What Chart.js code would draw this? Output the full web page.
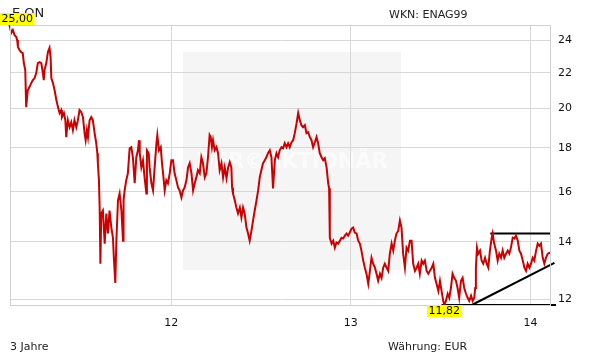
<!DOCTYPE html>
<html lang="de">
<head>
<meta charset="UTF-8">
<script src="https://cdn.jsdelivr.net/npm/chart.js"></script>
<title>E.ON</title>
<style>
  body { margin: 0; background: #fff; }
  canvas { display: block; }
</style>
</head>
<body>
<canvas id="chart" width="611" height="364"></canvas>
<script>
// time in decimal years (11.5 = mid 2011), close in EUR
const years = [
  11.100, 11.110, 11.119, 11.128, 11.138, 11.143, 11.147, 11.156, 11.165, 11.174, 11.180, 11.188, 11.193,
  11.202, 11.212, 11.221, 11.230, 11.240, 11.249, 11.258, 11.267, 11.277, 11.286, 11.291, 11.295, 11.305,
  11.314, 11.323, 11.329, 11.333, 11.342, 11.351, 11.361, 11.370, 11.379, 11.388, 11.392, 11.403, 11.411,
  11.416, 11.425, 11.435, 11.444, 11.453, 11.462, 11.472, 11.481, 11.490, 11.500, 11.509, 11.518, 11.524,
  11.531, 11.537, 11.546, 11.555, 11.564, 11.574, 11.583, 11.589, 11.592, 11.598, 11.602, 11.606, 11.611,
  11.620, 11.630, 11.639, 11.648, 11.657, 11.667, 11.676, 11.681, 11.689, 11.695, 11.704, 11.713, 11.723,
  11.732, 11.735, 11.741, 11.750, 11.759, 11.769, 11.778, 11.787, 11.797, 11.806, 11.815, 11.821, 11.825,
  11.834, 11.843, 11.852, 11.862, 11.865, 11.875, 11.880, 11.890, 11.899, 11.908, 11.918, 11.923, 11.932,
  11.942, 11.949, 11.955, 11.964, 11.973, 11.982, 11.992, 12.001, 12.010, 12.019, 12.029, 12.038, 12.047,
  12.057, 12.066, 12.075, 12.085, 12.094, 12.103, 12.113, 12.122, 12.131, 12.140, 12.149, 12.159, 12.168,
  12.177, 12.187, 12.196, 12.205, 12.214, 12.220, 12.227, 12.233, 12.242, 12.252, 12.261, 12.270, 12.280,
  12.289, 12.298, 12.308, 12.317, 12.326, 12.335, 12.339, 12.344, 12.354, 12.363, 12.372, 12.382, 12.391,
  12.400, 12.409, 12.419, 12.428, 12.437, 12.447, 12.456, 12.465, 12.475, 12.484, 12.493, 12.502, 12.511,
  12.521, 12.530, 12.539, 12.549, 12.558, 12.567, 12.577, 12.586, 12.595, 12.604, 12.614, 12.623, 12.632,
  12.642, 12.651, 12.660, 12.670, 12.679, 12.688, 12.698, 12.707, 12.716, 12.725, 12.734, 12.744, 12.753,
  12.762, 12.772, 12.781, 12.790, 12.800, 12.809, 12.818, 12.827, 12.837, 12.846, 12.855, 12.865, 12.874,
  12.879, 12.883, 12.893, 12.902, 12.911, 12.920, 12.930, 12.939, 12.948, 12.957, 12.967, 12.976, 12.985,
  12.994, 13.004, 13.013, 13.022, 13.032, 13.041, 13.050, 13.059, 13.069, 13.078, 13.087, 13.097, 13.106,
  13.115, 13.124, 13.134, 13.143, 13.152, 13.162, 13.171, 13.180, 13.189, 13.199, 13.208, 13.217, 13.227,
  13.236, 13.245, 13.254, 13.264, 13.273, 13.282, 13.291, 13.301, 13.310, 13.319, 13.329, 13.338, 13.347,
  13.357, 13.366, 13.375, 13.384, 13.394, 13.403, 13.412, 13.422, 13.431, 13.440, 13.450, 13.459, 13.468,
  13.477, 13.487, 13.496, 13.505, 13.514, 13.520, 13.529, 13.539, 13.548, 13.557, 13.566, 13.575, 13.585,
  13.594, 13.603, 13.613, 13.622, 13.631, 13.641, 13.650, 13.659, 13.669, 13.678, 13.687, 13.692, 13.696,
  13.702, 13.709, 13.719, 13.728, 13.737, 13.747, 13.756, 13.765, 13.774, 13.784, 13.789, 13.798, 13.808,
  13.817, 13.826, 13.836, 13.845, 13.854, 13.864, 13.873, 13.882, 13.891, 13.901, 13.910, 13.919, 13.929,
  13.938, 13.947, 13.957, 13.966, 13.975, 13.984, 13.994, 14.003, 14.012, 14.021, 14.031, 14.040, 14.049,
  14.058, 14.068, 14.077, 14.086, 14.096, 14.105, 14.113
];
const prices = [
  25.00, 24.47, 24.67, 24.34, 24.21, 24.01, 23.57, 23.38, 23.25, 23.19, 22.58, 22.16, 20.07,
  21.01, 21.19, 21.40, 21.57, 21.69, 21.98, 22.58, 22.64, 22.58, 21.98, 21.57, 22.16, 22.58,
  23.25, 23.51, 22.94, 21.69, 21.40, 21.01, 20.45, 20.07, 19.75, 19.91, 19.54, 19.75, 19.38,
  18.52, 19.38, 19.02, 19.28, 18.87, 19.38, 19.02, 19.38, 19.91, 19.80, 19.54, 18.72, 18.37,
  18.87, 18.52, 19.38, 19.54, 19.38, 18.72, 18.22, 17.74, 17.27, 16.50, 15.34, 13.20, 15.10,
  15.22, 13.93, 15.10, 14.31, 15.22, 14.54, 14.15, 13.41, 12.54, 14.04, 15.64, 15.93, 15.22,
  14.04, 15.64, 16.06, 16.50, 16.81, 17.98, 18.03, 17.55, 16.37, 17.55, 17.88, 18.37, 17.74,
  17.08, 17.41, 16.63, 15.93, 17.88, 17.74, 17.08, 16.37, 16.06, 17.08, 18.22, 18.62, 17.88,
  18.03, 17.27, 16.81, 16.06, 16.50, 16.37, 16.81, 17.41, 17.41, 16.81, 16.50, 16.19, 16.06,
  15.76, 16.06, 16.19, 16.50, 17.08, 17.27, 16.81, 16.06, 16.37, 16.63, 16.95, 16.81, 17.55,
  17.27, 16.63, 16.81, 17.55, 18.62, 18.52, 18.03, 18.37, 17.88, 18.03, 17.74, 16.95, 17.27,
  16.63, 17.08, 16.59, 17.08, 17.32, 17.08, 16.19, 15.93, 15.64, 15.34, 15.10, 15.34, 14.94,
  15.34, 15.10, 14.54, 14.31, 14.04, 14.42, 14.82, 15.22, 15.64, 16.06, 16.63, 16.95, 17.27,
  17.41, 17.55, 17.74, 17.88, 17.55, 16.15, 17.41, 17.74, 17.55, 17.88, 18.03, 17.98, 18.22,
  18.03, 18.22, 18.03, 18.27, 18.37, 18.72, 19.22, 19.75, 19.38, 19.12, 19.02, 19.12, 18.72,
  18.77, 18.52, 18.37, 18.03, 18.27, 18.52, 18.22, 17.74, 17.55, 17.41, 17.50, 17.08, 16.37,
  16.15, 14.15, 13.93, 14.04, 13.78, 13.97, 13.93, 14.04, 14.15, 14.12, 14.23, 14.31, 14.23,
  14.35, 14.50, 14.54, 14.35, 14.31, 14.04, 13.93, 13.67, 13.31, 13.06, 12.85, 12.51, 12.95,
  13.41, 13.20, 13.06, 12.85, 12.61, 12.85, 12.71, 13.06, 13.20, 13.06, 12.95, 13.56, 13.93,
  13.67, 14.04, 14.31, 14.42, 14.82, 14.54, 13.56, 13.06, 13.78, 13.67, 14.04, 14.04, 13.20,
  12.95, 13.06, 13.20, 12.85, 13.31, 13.20, 13.31, 12.95, 12.85, 12.95, 13.06, 13.20, 12.71,
  12.51, 12.27, 12.61, 12.27, 11.95, 11.82, 11.95, 12.18, 12.05, 12.37, 12.85, 12.71, 12.61,
  12.37, 12.05, 12.61, 12.71, 12.37, 12.18, 12.05, 11.95, 12.12, 11.95, 12.05, 12.37, 13.06,
  13.78, 13.56, 13.67, 13.31, 13.20, 13.41, 13.20, 13.06, 13.67, 14.15, 14.31, 13.93, 13.67,
  13.31, 13.56, 13.41, 13.67, 13.41, 13.56, 13.67, 13.56, 13.78, 14.15, 14.12, 14.23, 14.04,
  13.67, 13.56, 13.31, 13.06, 12.95, 13.20, 13.06, 13.20, 13.41, 13.31, 13.67, 13.93, 13.85,
  13.93, 13.41, 13.20, 13.41, 13.56, 13.59, 13.56
];

// drawn trend lines (start/end)
const resistanceX = [13.776, 14.109], resistanceY = [14.31, 14.31];
const supportX = [13.505, 14.142], supportY = [11.82, 11.82];
const trendX = [13.673, 14.133], trendY = [11.82, 13.23];

const yTicks = [12, 14, 16, 18, 20, 22, 24];
const xTicks = [12, 13, 14];
const xMin = 11.103, xMax = 14.114;

const FONT = 'DejaVu Sans';
const fmt = v => v.toFixed(2).replace('.', ',');
const pts = (xs, ys) => xs.map((x, i) => ({ x: x, y: ys[i] }));

const decor = {
  id: 'decor',
  beforeDraw(chart) {
    const c = chart.ctx;
    c.save();
    c.fillStyle = '#f5f5f5';
    c.fillRect(183, 52, 218, 218);
    c.fillStyle = '#fbfbfb';
    c.font = 'bold 21px ' + FONT;
    c.textAlign = 'center';
    c.textBaseline = 'middle';
    c.fillText('DER\u00A9AKTIONÄR', 292, 163);
    c.restore();
  },
  afterDraw(chart) {
    const c = chart.ctx, a = chart.chartArea;
    const xs = chart.scales.x, ys = chart.scales.y;
    c.save();
    c.strokeStyle = '#d0d0d0';
    c.lineWidth = 1;
    c.strokeRect(Math.round(a.left) + 0.5, Math.round(a.top) + 0.5,
      Math.round(a.right - a.left) - 1, Math.round(a.bottom - a.top));

    c.fillStyle = '#222';
    c.textBaseline = 'alphabetic';
    c.font = '13px ' + FONT;
    c.fillText('E.ON', 12, 17);
    c.font = '11px ' + FONT;
    c.fillText('WKN: ENAG99', 389, 18);
    c.fillText('3 Jahre', 10, 350);
    c.fillText('Währung: EUR', 388, 350);

    // max / min markers
    let hi = 0, lo = 0;
    prices.forEach((p, i) => { if (p > prices[hi]) hi = i; if (p < prices[lo]) lo = i; });
    const box = (i, above) => {
      const t = fmt(prices[i]);
      const w = c.measureText(t).width + 3, h = 12;
      const px = xs.getPixelForValue(years[i]), py = ys.getPixelForValue(prices[i]);
      const left = Math.max(0, Math.round(px - w / 2));
      const top = above ? Math.round(py) - h : Math.round(py);
      c.fillStyle = '#ffff00';
      c.fillRect(left, top, w, h);
      c.fillStyle = '#000';
      c.textBaseline = 'middle';
      c.fillText(t, left + 1.5, top + h / 2 + 0.5);
    };
    box(hi, true);
    box(lo, false);
    c.restore();
  }
};

const lineSet = (data, color, width) => ({
  data: data, borderColor: color, borderWidth: width,
  pointRadius: 0, tension: 0, fill: false, clip: false
});

new Chart(document.getElementById('chart'), {
  type: 'line',
  data: {
    datasets: [
      lineSet(pts(years, prices), '#cc0000', 2),
      lineSet(pts(resistanceX, resistanceY), '#000', 2),
      lineSet(pts(supportX, supportY), '#000', 2),
      lineSet(pts(trendX, trendY), '#000', 2)
    ]
  },
  options: {
    responsive: false,
    animation: false,
    events: [],
    layout: { padding: { left: 10, top: 25, right: 0, bottom: 0 } },
    plugins: { legend: { display: false }, tooltip: { enabled: false } },
    scales: {
      x: {
        type: 'linear', min: xMin, max: xMax,
        afterBuildTicks: s => { s.ticks = xTicks.map(v => ({ value: v })); },
        afterFit: s => { s.height = 59; },
        grid: { color: '#d8d8d8', drawTicks: false },
        border: { display: false },
        ticks: { color: '#111', font: { family: FONT, size: 11 }, padding: 12, maxRotation: 0,
                 callback: v => String(v) }
      },
      y: {
        type: 'logarithmic', position: 'right', min: 11.82, max: 25.0,
        afterBuildTicks: s => { s.ticks = yTicks.map(v => ({ value: v })); },
        afterFit: s => { s.width = 60; },
        grid: { color: '#d8d8d8', drawTicks: false },
        border: { display: false },
        ticks: { color: '#111', font: { family: FONT, size: 11 }, padding: 7,
                 callback: v => String(v) }
      }
    }
  },
  plugins: [decor]
});
</script>
</body>
</html>
